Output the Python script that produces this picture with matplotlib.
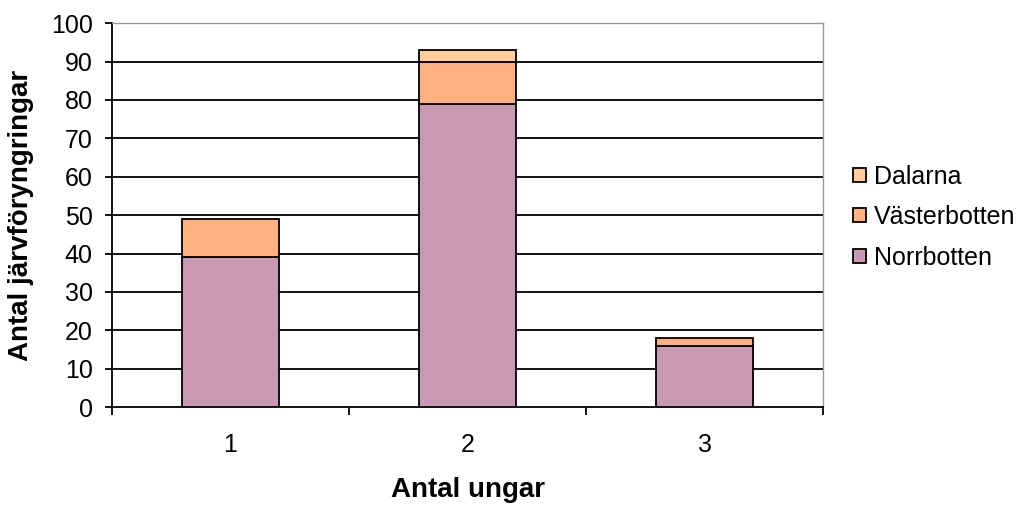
import matplotlib.pyplot as plt
import numpy as np

plt.rcParams['font.family'] = ['Liberation Sans', 'DejaVu Sans']

categories = ['1', '2', '3']
norrbotten = [39, 79, 16]
vasterbotten = [10, 11, 2]
dalarna = [0, 3, 0]

colors = {'Norrbotten': '#C999B4', 'Västerbotten': '#FFB07F', 'Dalarna': '#FFCC99'}

fig = plt.figure(figsize=(10.28, 5.05), dpi=100)
ax = fig.add_axes([0.109, 0.194, 0.6916, 0.76])

x = np.arange(len(categories))
w = 0.41
bottom = np.zeros(len(categories))
handles = []
for name, vals in [('Norrbotten', norrbotten), ('Västerbotten', vasterbotten), ('Dalarna', dalarna)]:
    vals = np.array(vals)
    mask = vals > 0
    b = ax.bar(x[mask], vals[mask], w, bottom=bottom[mask], color=colors[name],
               edgecolor='black', linewidth=1.3, zorder=3, label=name)
    handles.append(b)
    bottom += vals

ax.set_xlim(-0.5, 2.5)
ax.set_ylim(0, 100)
ax.set_yticks(range(0, 101, 10))
for v in range(10, 100, 10):
    ax.axhline(v, color='black', linewidth=1.3, zorder=1)

ax.set_xticks(x)
ax.set_xticklabels(categories)
ax.set_xticks([-0.5, 0.5, 1.5, 2.5], minor=True)
ax.tick_params(axis='x', which='major', length=0, pad=19, labelsize=18)
ax.tick_params(axis='x', which='minor', length=6, width=1.3, direction='out')
ax.tick_params(axis='y', length=5, width=1.3, direction='out', pad=9, labelsize=18)

for s in ['left', 'bottom']:
    ax.spines[s].set_color('black')
    ax.spines[s].set_linewidth(1.3)
for s in ['top', 'right']:
    ax.spines[s].set_color('#999999')
    ax.spines[s].set_linewidth(1.0)

ax.set_xlabel('Antal ungar', fontsize=20, fontweight='bold', labelpad=14)
ax.set_ylabel('Antal järvföryngringar', fontsize=20, fontweight='bold', labelpad=12)

leg = fig.legend(handles[::-1], ['Dalarna', 'Västerbotten', 'Norrbotten'],
                 loc='center left', bbox_to_anchor=(0.808, 0.57), frameon=False,
                 fontsize=18, handlelength=0.5, handleheight=0.5, handletextpad=0.35,
                 labelspacing=0.66)

fig.savefig('out.png', dpi=100, facecolor='white')
